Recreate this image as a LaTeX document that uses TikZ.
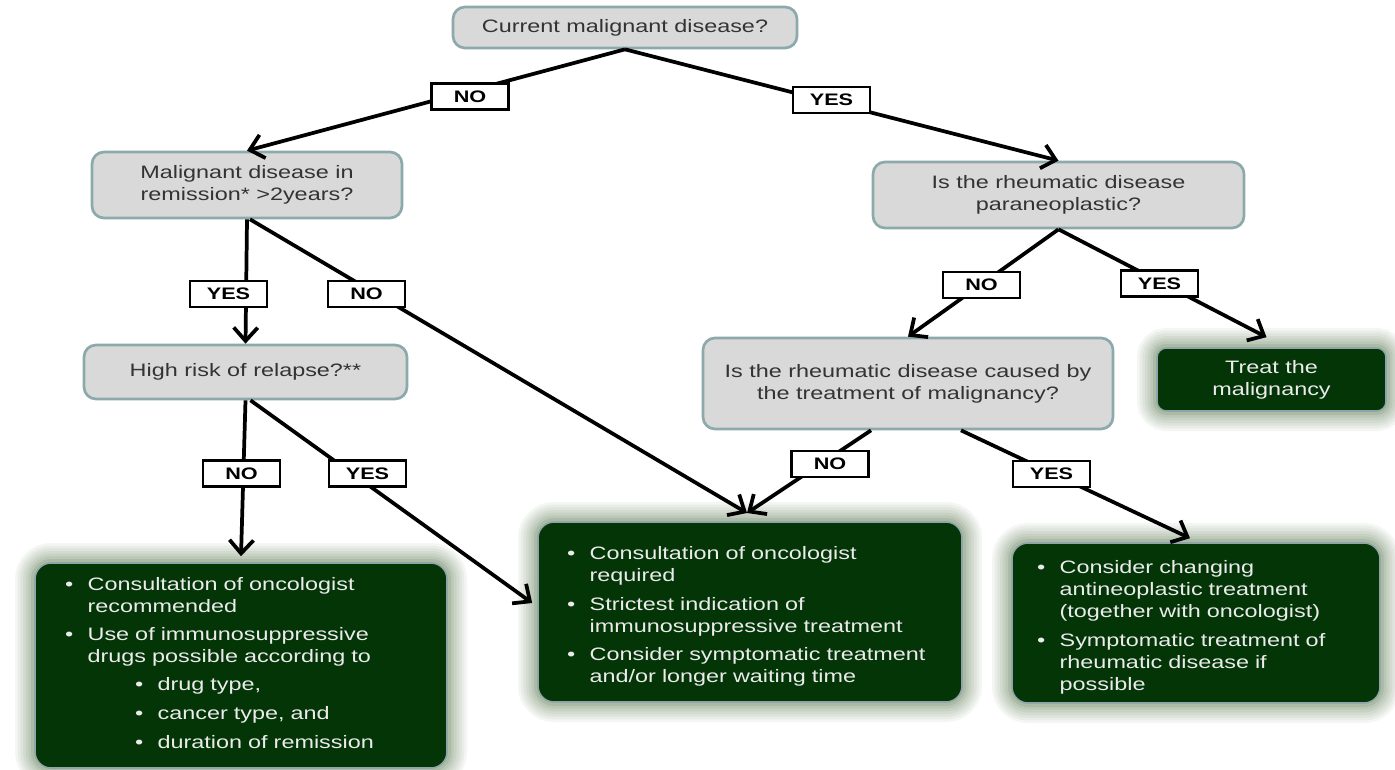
\documentclass[tikz,border=0pt]{standalone}
\usepackage{fontspec}
\setmainfont{Liberation Sans}[FakeStretch=1.3]
\usetikzlibrary{arrows.meta,calc}
\definecolor{grayfill}{HTML}{D9D9D9}
\definecolor{grayline}{HTML}{8CA9AC}
\definecolor{darkgreen}{HTML}{033507}
\definecolor{glowc}{HTML}{7F9677}
\definecolor{greenline}{HTML}{8FA5A8}
\definecolor{lighttext}{HTML}{EBEBEB}
\definecolor{darktext}{HTML}{333333}
\newcommand{\bul}[3]{\par\vspace{#2}\noindent\hangindent=\dimexpr#1+17pt\relax\hangafter=1\hspace*{#1}\makebox[17pt][l]{•}#3\par}
\tikzset{
  graybox/.style={draw=grayline, line width=2pt, fill=grayfill, rounded corners=9pt,
    text=darktext, align=center, font=\fontsize{13.5}{16.5}\selectfont, inner sep=0pt},
  glow/.style={
    preaction={draw=glowc, line width=30pt, opacity=0.08},
    preaction={draw=glowc, line width=26pt, opacity=0.09},
    preaction={draw=glowc, line width=22pt, opacity=0.10},
    preaction={draw=glowc, line width=18pt, opacity=0.11},
    preaction={draw=glowc, line width=14pt, opacity=0.13},
    preaction={draw=glowc, line width=10pt, opacity=0.16},
    preaction={draw=glowc, line width=6pt, opacity=0.25}},
  greenbox/.style={glow, fill=darkgreen, draw=greenline, line width=1.2pt, rounded corners=12pt,
    text=lighttext, font=\fontsize{13.5}{16.5}\selectfont, inner sep=0pt},
  lbl/.style={draw=black, line width=2pt, fill=white, minimum width=57.75pt, minimum height=19.5pt,
    inner sep=0pt, font=\fontsize{12.5}{13}\selectfont\bfseries},
  arr/.style={line width=2.8pt, -{Straight Barb[length=10pt,width=18pt,line width=2.8pt]}}
}
\begin{document}
\begin{tikzpicture}[x=0.75pt,y=-0.75pt]
\fill[white] (0,0) rectangle (1395,770);
\useasboundingbox (0,0) rectangle (1395,770);

% question boxes
\node[graybox, minimum width=258pt, minimum height=30.75pt] (top) at (625,27.5) {Current malignant disease?};
\node[graybox, minimum width=232.5pt, minimum height=49.5pt] (rem) at (247,185) {Malignant disease in\\remission* >2years?};
\node[graybox, minimum width=278.25pt, minimum height=49.5pt] (para) at (1058.5,195) {Is the rheumatic disease\\paraneoplastic?};
\node[graybox, minimum width=242.25pt, minimum height=40.5pt] (risk) at (245.5,372) {High risk of relapse?**};
\node[graybox, minimum width=307.5pt, minimum height=68.25pt] (caused) at (908,383.5) {Is the rheumatic disease caused by\\the treatment of malignancy?};

% outcome boxes
\node[greenbox, rounded corners=7pt, minimum width=171.75pt, minimum height=47.25pt, align=center] (treat) at (1271.5,379.5) {Treat the\\malignancy};

\node[greenbox, minimum width=309pt, minimum height=153.75pt, text width=289pt, align=left] (box1) at (241,665.5) {%
\bul{12.5pt}{0pt}{Consultation of oncologist\newline recommended}%
\bul{12.5pt}{4.5pt}{Use of immunosuppressive\newline drugs possible according to}%
\bul{65pt}{5pt}{drug type,}%
\bul{65pt}{5pt}{cancer type, and}%
\bul{65pt}{5pt}{duration of remission}\vspace{11pt}};

\node[greenbox, minimum width=318pt, minimum height=135pt, text width=298pt, align=left] (box2) at (750,612) {%
\bul{11.75pt}{0pt}{Consultation of oncologist\newline required}%
\bul{11.75pt}{5pt}{Strictest indication of\newline immunosuppressive treatment}%
\bul{11.75pt}{5pt}{Consider symptomatic treatment\newline and/or longer waiting time}};

\node[greenbox, minimum width=276pt, minimum height=120pt, text width=256pt, align=left] (box3) at (1196,623) {%
\bul{8.75pt}{0pt}{Consider changing\newline antineoplastic treatment\newline (together with oncologist)}%
\bul{8.75pt}{5pt}{Symptomatic treatment of\newline rheumatic disease if\newline possible}};

% connectors
\coordinate (meet) at (747,513);
\draw[arr] (top.south) -- (rem.north);
\draw[arr] (top.south) -- (para.north);
\draw[arr] (rem.south) -- (risk.north);
\draw[arr] ($(rem.south)+(3,0)$) -- (meet);
\draw[arr] ($(caused.south)+(-37,0)$) -- (meet);
\draw[arr] (para.south) -- (caused.north);
\draw[arr] (para.south) -- ($(treat.north)+(-5,-10)$);
\draw[arr] (risk.south) -- ($(box1.north)+(0,-6)$);
\draw[arr] ($(risk.south)+(5,0)$) -- ($(box2.west)+(-5,-9)$);
\draw[arr] ($(caused.south)+(53,0)$) -- ($(box3.north)+(-6,-4)$);

% labels
\node[lbl] (l1) at (470,96.5) {NO};
\node[lbl] (l2) at (831.5,100) {YES};
\node[lbl] (l3) at (228.5,294) {YES};
\node[lbl] (l4) at (366.5,294) {NO};
\node[lbl] (l5) at (981.5,285) {NO};
\node[lbl] (l6) at (1159.5,283.5) {YES};
\node[lbl] (l7) at (241.5,473.5) {NO};
\node[lbl] (l8) at (367.5,473.5) {YES};
\node[lbl] (l9) at (830,464) {NO};
\node[lbl] (l10) at (1051.5,474) {YES};
\end{tikzpicture}
\end{document}
